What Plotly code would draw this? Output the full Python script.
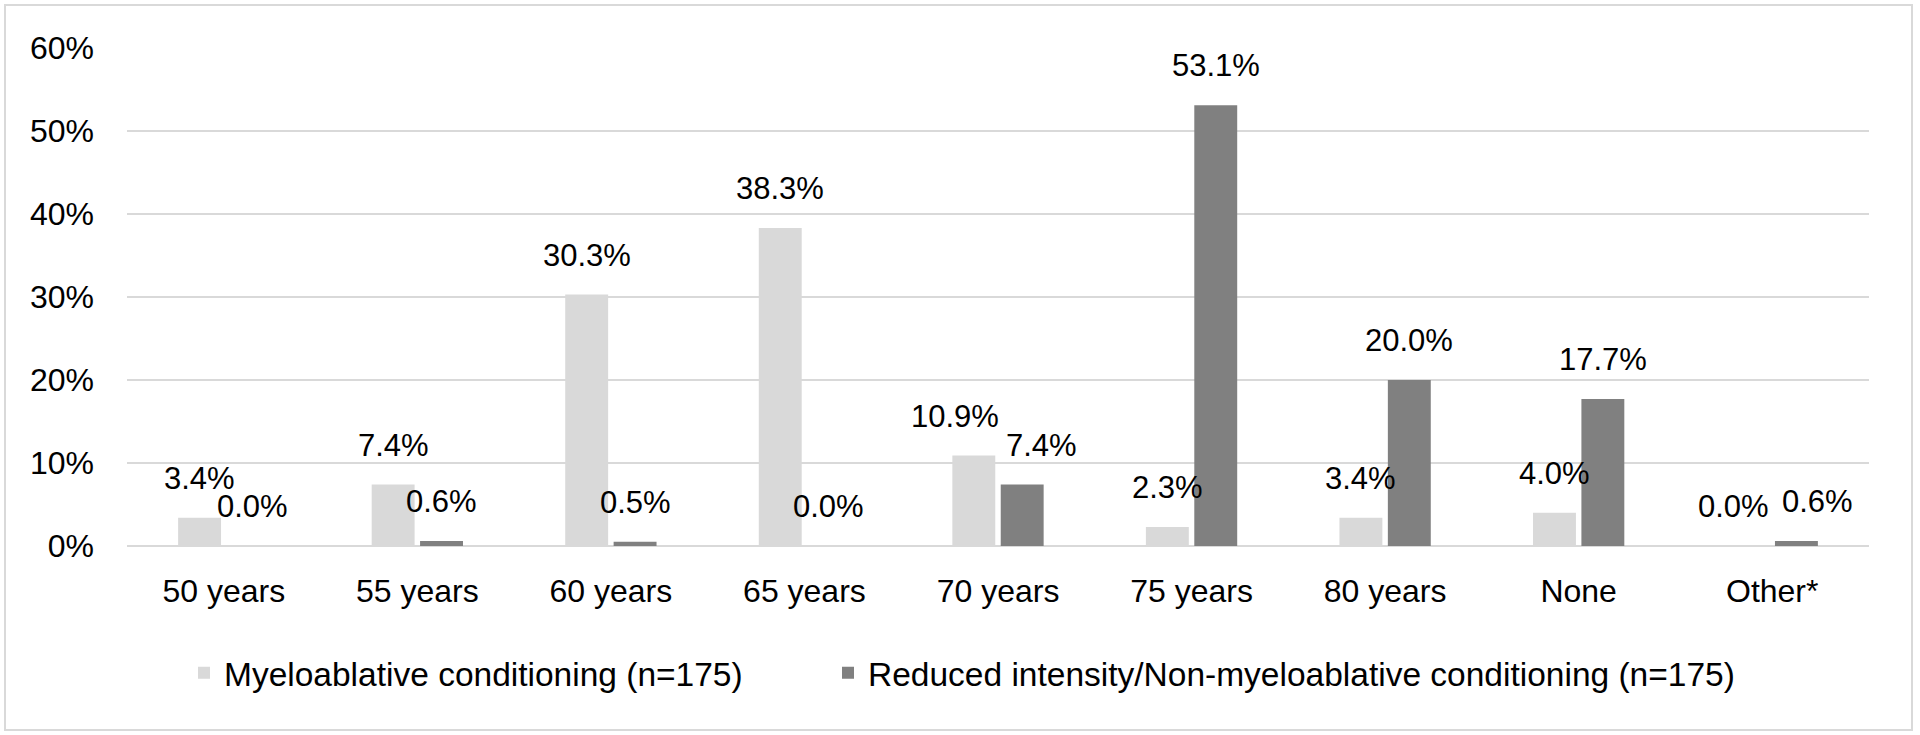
import plotly.graph_objects as go

categories = ["50 years", "55 years", "60 years", "65 years", "70 years",
              "75 years", "80 years", "None", "Other*"]
myeloablative = [3.4, 7.4, 30.3, 38.3, 10.9, 2.3, 3.4, 4.0, 0.0]
reduced = [0.0, 0.6, 0.5, 0.0, 7.4, 53.1, 20.0, 17.7, 0.6]
series_names = ["Myeloablative conditioning (n=175)",
                "Reduced intensity/Non-myeloablative conditioning (n=175)"]
y_ticks = [0, 10, 20, 30, 40, 50, 60]

# style
LIGHT = "#d9d9d9"
DARK = "#808080"
FONT = "Liberation Sans, Arial, sans-serif"
FS = 31
FS_TICK = 32
FS_LEG = 33.5
W, H = 1920, 735
ML, MR, MT, MB = 127, 51, 48, 189
BARGAP = 0.5
# label nudges (px) to keep neighbouring labels apart, like the original
nudge_light = {"70 years": -19, "Other*": -15}
nudge_dark = {"50 years": 5, "70 years": 19, "Other*": 21}

plot_w = W - ML - MR
cat_w = plot_w / len(categories)
half_slot = cat_w * (1 - BARGAP) / 4

fig = go.Figure()
fig.add_trace(go.Bar(x=categories, y=[v / 100 for v in myeloablative],
                     name=series_names[0], marker=dict(color=LIGHT, line=dict(width=0)),
                     hoverinfo="skip", legend="legend"))
fig.add_trace(go.Bar(x=categories, y=[v / 100 for v in reduced],
                     name=series_names[1], marker=dict(color=DARK, line=dict(width=0)),
                     hoverinfo="skip", legend="legend2"))

annotations = []
for vals, sign, nudges in [(myeloablative, -1, nudge_light), (reduced, 1, nudge_dark)]:
    for c, v in zip(categories, vals):
        annotations.append(dict(
            x=c, y=v / 100, xref="x", yref="y", text=f"{v:.1f}%",
            showarrow=False, xanchor="center", yanchor="bottom",
            xshift=sign * half_slot + nudges.get(c, 0), yshift=20,
            font=dict(family=FONT, size=FS, color="#000000")))

fig.update_layout(
    width=W, height=H,
    paper_bgcolor="white", plot_bgcolor="white",
    margin=dict(l=ML, r=MR, t=MT, b=MB, autoexpand=False),
    barmode="group", bargap=BARGAP, bargroupgap=0.113,
    font=dict(family=FONT, size=FS, color="#000000"),
    showlegend=True,
    legend=dict(orientation="h", x=(184 - ML) / plot_w, xanchor="left", y=-0.255,
                yanchor="middle", font=dict(family=FONT, size=FS_LEG)),
    legend2=dict(orientation="h", x=(828 - ML) / plot_w, xanchor="left", y=-0.255,
                 yanchor="middle", font=dict(family=FONT, size=FS_LEG)),
    xaxis=dict(showgrid=False, showline=False, ticks="", automargin=False,
               tickfont=dict(family=FONT, size=FS_TICK), ticklabelstandoff=23),
    yaxis=dict(range=[0, 0.6], tickvals=[t / 100 for t in y_ticks],
               ticktext=[f"{t}%" for t in y_ticks], automargin=False,
               showgrid=True, gridcolor=LIGHT, gridwidth=2,
               zeroline=True, zerolinecolor=LIGHT, zerolinewidth=2,
               showline=False, ticks="", ticklabelstandoff=32,
               tickfont=dict(family=FONT, size=FS_TICK)),
    annotations=annotations,
    shapes=[dict(type="rect", xref="paper", yref="paper",
                 x0=(5 - ML) / plot_w, x1=(1912 - ML) / plot_w,
                 y0=-(730 - (H - MB)) / (H - MT - MB), y1=1 + (MT - 5) / (H - MT - MB),
                 line=dict(color=LIGHT, width=2), fillcolor="rgba(0,0,0,0)",
                 layer="below")],
)

fig.write_html("out.html", config={"displayModeBar": False},
               post_script="document.body.style.margin='0';")
